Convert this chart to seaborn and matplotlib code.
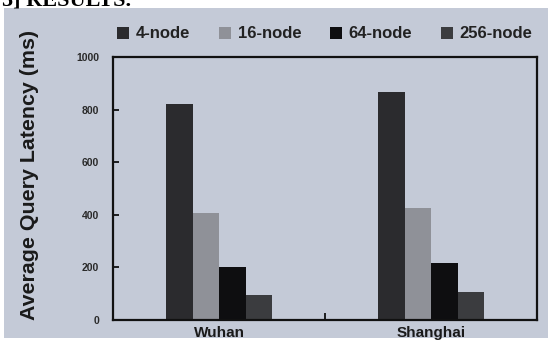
import pandas as pd
import matplotlib.pyplot as plt
from matplotlib.patches import Rectangle, Patch
import seaborn as sns

# ==========================================
# Data
# ==========================================
cities = ['Wuhan', 'Shanghai']
node_sizes = ['4-node', '16-node', '64-node', '256-node']
wuhan_latency = [821, 408, 203, 95]
shanghai_latency = [868, 427, 218, 105]
y_ticks = [0, 200, 400, 600, 800, 1000]

bar_colors = ['#2b2b2e', '#8f9198', '#0e0e10', '#3b3c3f']
bg_color = '#c4cad7'

rows = []
for city, vals in zip(cities, [wuhan_latency, shanghai_latency]):
    for n, v in zip(node_sizes, vals):
        rows.append({'City': city, 'Nodes': n, 'Latency': v})
df = pd.DataFrame(rows)

# ==========================================
# Plot
# ==========================================
sns.set_theme(style="white")
plt.rcParams['font.family'] = ['Liberation Sans', 'DejaVu Sans']

fig = plt.figure(figsize=(5.54, 3.43), dpi=100, facecolor='white')
# scanned page background
fig.patches.append(Rectangle((4 / 554, 5 / 343), 544 / 554, 330 / 343,
                             transform=fig.transFigure, facecolor=bg_color,
                             edgecolor='none', zorder=-5))
fig.text(0.004, 1 - 6 / 343, '5] RESULTS.', family=['Liberation Serif', 'DejaVu Serif'],
         fontsize=16, fontweight='bold', va='baseline', ha='left', color='black')

ax = fig.add_axes([113 / 554, 1 - 320 / 343, 424 / 554, 263 / 343])
ax.set_facecolor(bg_color)

palette = dict(zip(node_sizes, bar_colors))
sns.barplot(data=df, x='City', y='Latency', hue='Nodes', order=cities,
            hue_order=node_sizes, palette=palette, width=0.5, saturation=1,
            edgecolor='none', legend=False, ax=ax)

ax.set_xlim(-0.5, 1.5)
ax.set_ylim(0, 1000)
ax.set_yticks(y_ticks)
ax.set_yticklabels([str(t) for t in y_ticks], fontsize=7.5, fontweight='bold', color='#2a2a2a')
ax.set_xticks([0, 1])
ax.set_xticklabels(cities, fontsize=11, fontweight='bold', color='#1a1a1a')
ax.set_xticks([0.5], minor=True)
ax.tick_params(axis='x', which='major', length=0, pad=4)
ax.tick_params(axis='x', which='minor', direction='in', length=5, width=1.2, color='black', bottom=True)
ax.tick_params(axis='y', direction='in', length=4, width=1.2, color='black', left=True, pad=10)

for s in ax.spines.values():
    s.set_linewidth(1.6)
    s.set_color('#111111')

ax.set_xlabel('')
ax.set_ylabel('Average Query Latency (ms)', fontsize=15.4, fontweight='bold', color='#1a1a1a')
ax.yaxis.set_label_coords(-0.174, 0.551)

handles = [Patch(facecolor=c, edgecolor='none') for c in bar_colors]
fig.legend(handles, node_sizes, loc='center left', bbox_to_anchor=(117 / 554, 1 - 34 / 343),
           ncol=4, frameon=False, handlelength=0.72, handleheight=0.72,
           handletextpad=0.42, columnspacing=1.7, borderpad=0, borderaxespad=0,
           prop={'weight': 'bold', 'size': 12})
for t in fig.legends[0].get_texts():
    t.set_color('#222222')

fig.savefig('out.png', dpi=100, facecolor='white')
